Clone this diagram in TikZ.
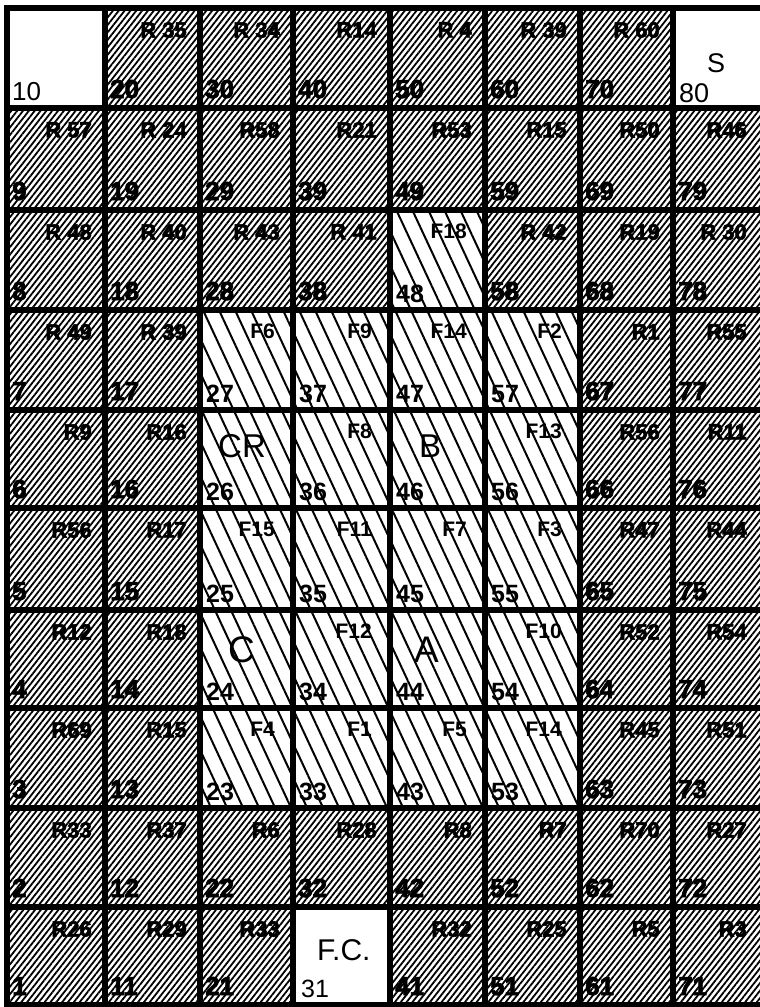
\documentclass[tikz,border=0pt]{standalone}
\usepackage{fontspec}
\setmainfont{Liberation Sans}
\newfontfamily\heavyfont{Liberation Sans Bold}[FakeBold=2.5]
\usetikzlibrary{patterns.meta}
\def\XS{{7,105,200,293,390,485,580,673,760}}
\def\YS{{8,108,210,310,410,508,610,708,808,907,1005}}
\tikzset{
  darkfill/.style={pattern={Lines[angle=52,distance=4.6pt,line width=1.8pt]}},
  lightfill/.style={pattern={Lines[angle=-65,distance=14.5pt,line width=2pt]}},
  rlab/.style={font=\fontsize{22}{22}\heavyfont, inner sep=0pt, anchor=north east},
  flab/.style={font=\fontsize{21}{21}\selectfont\bfseries, inner sep=0pt, anchor=north east},
  fnum/.style={font=\fontsize{25}{25}\selectfont\bfseries, inner sep=0pt, anchor=base west},
  wnum/.style={font=\fontsize{26}{26}\selectfont, inner sep=0pt, anchor=base west},
  dnum/.style={font=\fontsize{26}{26}\heavyfont, inner sep=0pt, anchor=base west},
  biglab/.style={font=\fontsize{32}{32}\selectfont, inner sep=0pt, anchor=base west},
  gridline/.style={line width=6pt, line cap=rect},
}
\newcommand\cellgeom[2]{%
  \pgfmathsetmacro\xl{\XS[#1-1]}%
  \pgfmathsetmacro\xr{\XS[#1]}%
  \pgfmathsetmacro\yt{\YS[#2-1]}%
  \pgfmathsetmacro\yb{\YS[#2]}}
% dark hatched cell: col,row,label,number
\newcommand\dcell[4]{\cellgeom{#1}{#2}%
  \path[darkfill] (\xl,\yt) rectangle (\xr,\yb);
  \node[rlab] (l#4) at (\xr-13,\yt+14) {#3};
  \node[dnum] (n#4) at (\xl+5,\yb-10) {#4};}
% light hatched cell: col,row,label,number
\newcommand\fcell[4]{\cellgeom{#1}{#2}%
  \path[lightfill] (\xl,\yt) rectangle (\xr,\yb);
  \node[flab] (l#4) at (\xr-18,\yt+14) {#3};
  \node[fnum] (n#4) at (\xl+6,\yb-8) {#4};}
% light hatched cell with big letter: col,row,letter,number,xoff,yoff,size
\newcommand\bcell[7]{\cellgeom{#1}{#2}%
  \path[lightfill] (\xl,\yt) rectangle (\xr,\yb);
  \node[biglab,font=\fontsize{#7}{#7}\selectfont] (l#4) at (\xl+#5,\yt+#6) {#3};
  \node[fnum] (n#4) at (\xl+6,\yb-8) {#4};}
\begin{document}
\begin{tikzpicture}[x=1pt,y=-1pt]
\useasboundingbox (0,0) rectangle (760,1007);
\fill[white] (0,0) rectangle (760,1007);
% row 1
\node[wnum] (n10) at (12,100) {10};
\dcell{2}{1}{R 35}{20}
\dcell{3}{1}{R 34}{30}
\dcell{4}{1}{R14}{40}
\dcell{5}{1}{R 4}{50}
\dcell{6}{1}{R 39}{60}
\dcell{7}{1}{R 60}{70}
\node[biglab,font=\fontsize{27}{27}\selectfont] (lS) at (707,72) {S};
\node[wnum,font=\fontsize{27}{27}\selectfont] (n80) at (679,102) {80};
% row 2
\dcell{1}{2}{R 57}{9}
\dcell{2}{2}{R 24}{19}
\dcell{3}{2}{R58}{29}
\dcell{4}{2}{R21}{39}
\dcell{5}{2}{R53}{49}
\dcell{6}{2}{R15}{59}
\dcell{7}{2}{R50}{69}
\dcell{8}{2}{R46}{79}
% row 3
\dcell{1}{3}{R 48}{8}
\dcell{2}{3}{R 40}{18}
\dcell{3}{3}{R 43}{28}
\dcell{4}{3}{R 41}{38}
\fcell{5}{3}{F18}{48}
\dcell{6}{3}{R 42}{58}
\dcell{7}{3}{R19}{68}
\dcell{8}{3}{R 30}{78}
% row 4
\dcell{1}{4}{R 49}{7}
\dcell{2}{4}{R 39}{17}
\fcell{3}{4}{F6}{27}
\fcell{4}{4}{F9}{37}
\fcell{5}{4}{F14}{47}
\fcell{6}{4}{F2}{57}
\dcell{7}{4}{R1}{67}
\dcell{8}{4}{R55}{77}
% row 5
\dcell{1}{5}{R9}{6}
\dcell{2}{5}{R16}{16}
\bcell{3}{5}{CR}{26}{18}{47}{33}
\fcell{4}{5}{F8}{36}
\bcell{5}{5}{B}{46}{29}{47}{33}
\fcell{6}{5}{F13}{56}
\dcell{7}{5}{R56}{66}
\dcell{8}{5}{R11}{76}
% row 6
\dcell{1}{6}{R56}{5}
\dcell{2}{6}{R17}{15}
\fcell{3}{6}{F15}{25}
\fcell{4}{6}{F11}{35}
\fcell{5}{6}{F7}{45}
\fcell{6}{6}{F3}{55}
\dcell{7}{6}{R47}{65}
\dcell{8}{6}{R44}{75}
% row 7
\dcell{1}{7}{R12}{4}
\dcell{2}{7}{R18}{14}
\bcell{3}{7}{C}{24}{28}{52}{37}
\fcell{4}{7}{F12}{34}
\bcell{5}{7}{A}{44}{24}{52}{37}
\fcell{6}{7}{F10}{54}
\dcell{7}{7}{R52}{64}
\dcell{8}{7}{R54}{74}
% row 8
\dcell{1}{8}{R69}{3}
\dcell{2}{8}{R15}{13}
\fcell{3}{8}{F4}{23}
\fcell{4}{8}{F1}{33}
\fcell{5}{8}{F5}{43}
\fcell{6}{8}{F14}{53}
\dcell{7}{8}{R45}{63}
\dcell{8}{8}{R51}{73}
% row 9
\dcell{1}{9}{R33}{2}
\dcell{2}{9}{R37}{12}
\dcell{3}{9}{R6}{22}
\dcell{4}{9}{R28}{32}
\dcell{5}{9}{R8}{42}
\dcell{6}{9}{R7}{52}
\dcell{7}{9}{R70}{62}
\dcell{8}{9}{R27}{72}
% row 10
\dcell{1}{10}{R26}{1}
\dcell{2}{10}{R29}{11}
\dcell{3}{10}{R33}{21}
\node[biglab,font=\fontsize{30}{30}\selectfont] (lFC) at (317,960) {F.C.};
\node[wnum,font=\fontsize{25}{25}\selectfont] (n31) at (301,997) {31};
\dcell{5}{10}{R32}{41}
\dcell{6}{10}{R25}{51}
\dcell{7}{10}{R5}{61}
\dcell{8}{10}{R3}{71}
% grid
\foreach \x in {7,105,200,293,390,485,580,673}
  \draw[gridline] (\x,8) -- (\x,1005);
\foreach \y in {8,108,210,310,410,508,610,708,808,907,1005}
  \draw[gridline] (7,\y) -- (760,\y);
\end{tikzpicture}
\end{document}
